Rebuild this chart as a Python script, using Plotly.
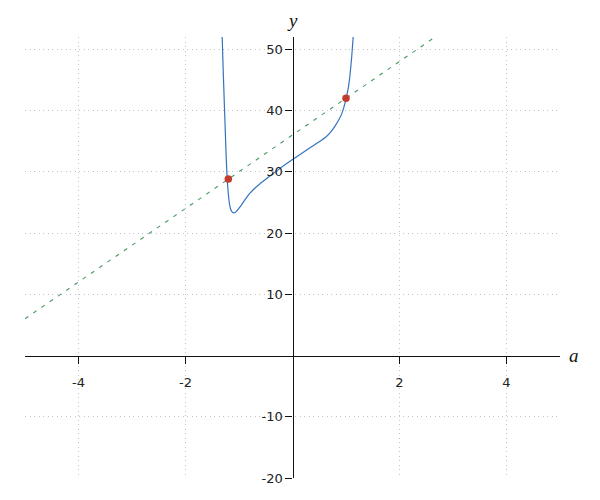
import plotly.graph_objects as go

# Curve values
curve_x = [-1.315, -1.295, -1.275, -1.255, -1.237, -1.219, -1.200, -1.180, -1.160, -1.130,
           -1.100, -1.070, -1.040, -0.981, -0.920, -0.850, -0.794, -0.700, -0.607, -0.452,
           -0.234, 0.0, 0.327, 0.500, 0.639, 0.720, 0.794, 0.860, 0.920, 0.960,
           1.0, 1.043, 1.075, 1.106, 1.136]
curve_y = [52.2, 46.5, 41.3, 36.3, 31.9, 28.6, 26.4, 24.9, 24.0, 23.45,
           23.3, 23.35, 23.6, 24.25, 25.05, 25.9, 26.5, 27.35, 28.05, 29.1,
           30.55, 32.0, 33.9, 34.9, 35.8, 36.55, 37.45, 38.4, 39.45, 40.5,
           41.9, 43.7, 45.8, 48.7, 52.2]

# Dashed line end points
line_x = [-5.0, 2.7]
line_y = [6.0, 52.2]

# Marked points
pts_x = [-1.2, 1.0]
pts_y = [28.8, 42.0]

xticks = [-4, -2, 2, 4]
xlabels = ["-4", "-2", "2", "4"]
yticks = [-20, -10, 10, 20, 30, 40, 50]
ylabels = ["-20", "-10", "10", "20", "30", "40", "50"]

fig = go.Figure()
fig.add_trace(go.Scatter(x=line_x, y=line_y, mode="lines",
                         line=dict(color="#4a9a63", width=1.1, dash="4px,6px"),
                         hoverinfo="skip"))
fig.add_trace(go.Scatter(x=curve_x, y=curve_y, mode="lines",
                         line=dict(color="#3474bf", width=1.2, shape="spline", smoothing=0.5),
                         hoverinfo="skip"))
fig.add_trace(go.Scatter(x=pts_x, y=pts_y, mode="markers",
                         marker=dict(color="#c43b2e", size=7.5),
                         hoverinfo="skip"))

axis_common = dict(showgrid=True, gridcolor="#c4c4c4", griddash="1px,3.5px", gridwidth=1,
                   zeroline=False, showline=True, linecolor="#111", linewidth=1.2,
                   ticks="outside", ticklen=7, tickcolor="#111", tickwidth=1.2,
                   tickfont=dict(family="DejaVu Sans", size=13, color="#222"))

fig.update_layout(
    width=600, height=500,
    margin=dict(l=17, r=48, t=29, b=30),
    paper_bgcolor="white", plot_bgcolor="white",
    showlegend=False,
    xaxis=dict(range=[-5, 5], tickvals=xticks, ticktext=xlabels, anchor="free",
               position=20 / 72, ticklabelstandoff=8, **axis_common),
    yaxis=dict(range=[-20, 52], tickvals=yticks, ticktext=ylabels, anchor="free",
               position=0.5, **axis_common),
    annotations=[
        dict(text="<i>y</i>", x=0, y=1, xref="x", yref="paper", yshift=17,
             yanchor="middle", showarrow=False,
             font=dict(family="Liberation Serif", size=19, color="#111")),
        dict(text="<i>a</i>", x=1, y=0, xref="paper", yref="y", xshift=14,
             xanchor="center", yanchor="middle", showarrow=False,
             font=dict(family="Liberation Serif", size=19, color="#111")),
    ],
)

fig.write_html("out.html")
